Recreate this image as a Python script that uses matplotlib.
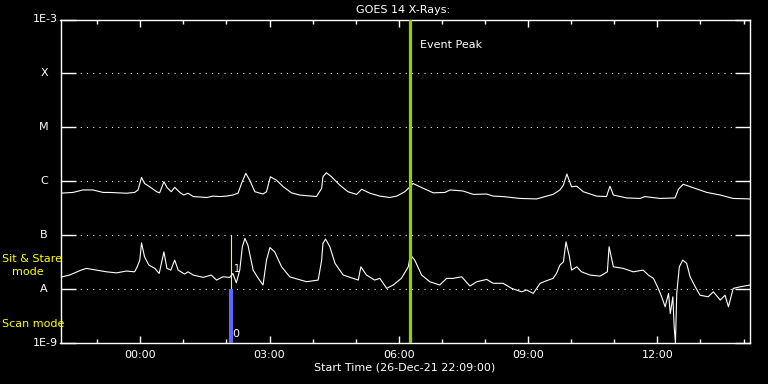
import numpy as np
import matplotlib
matplotlib.use("Agg")
import matplotlib.pyplot as plt
from matplotlib.ticker import FixedLocator, NullLocator, FuncFormatter
import matplotlib.transforms as mtransforms

# time in hours relative to 00:00 on 27-Dec (start 26-Dec 22:09)
long_t = [-1.87, -1.56, -1.33, -1.10, -0.86, -0.71, -0.32, -0.13, -0.05, 0.03, 0.10, 0.22,
          0.38, 0.45, 0.55, 0.62, 0.72, 0.80, 0.92, 1.01, 1.11, 1.23, 1.54, 1.69, 1.85,
          2.00, 2.15, 2.27, 2.35, 2.45, 2.54, 2.66, 2.85, 2.93, 3.02, 3.16, 3.32, 3.51,
          3.70, 4.09, 4.21, 4.24, 4.32, 4.44, 4.63, 4.82, 5.02, 5.14, 5.33, 5.56, 5.79,
          5.95, 6.14, 6.26, 6.33, 6.49, 6.80, 7.07, 7.19, 7.49, 7.73, 8.04, 8.19, 8.42,
          8.81, 9.20, 9.43, 9.58, 9.74, 9.82, 9.90, 10.01, 10.13, 10.28, 10.59, 10.82,
          10.90, 10.98, 11.29, 11.60, 11.71, 12.06, 12.41, 12.49, 12.60, 12.83, 13.15,
          13.46, 13.76, 14.15]
# 1-8 A flux in units of 1e-6 W/m^2
long_f = [0.60, 0.62, 0.69, 0.69, 0.62, 0.62, 0.60, 0.62, 0.69, 1.18, 0.91, 0.79,
          0.64, 0.61, 0.98, 0.77, 0.64, 0.77, 0.62, 0.555, 0.60, 0.52, 0.50, 0.53, 0.52,
          0.53, 0.555, 0.60, 0.91, 1.40, 1.05, 0.64, 0.58, 0.64, 1.21, 1.05, 0.79, 0.61,
          0.555, 0.52, 0.74, 1.21, 1.44, 1.21, 0.85, 0.64, 0.57, 0.71, 0.60, 0.53, 0.50,
          0.53, 0.64, 0.79, 0.91, 0.79, 0.61, 0.62, 0.69, 0.66, 0.57, 0.58, 0.53, 0.52,
          0.48, 0.47, 0.53, 0.57, 0.69, 0.85, 1.36, 0.79, 0.81, 0.64, 0.53, 0.52,
          0.81, 0.555, 0.49, 0.48, 0.52, 0.48, 0.49, 0.71, 0.88, 0.76, 0.62,
          0.555, 0.48, 0.47]

short_t = [-1.87, -1.64, -1.37, -1.25, -1.02, -0.78, -0.55, -0.32, -0.13, -0.07, -0.01, 0.03,
           0.10, 0.20, 0.34, 0.44, 0.55, 0.62, 0.71, 0.80, 0.88, 1.03, 1.11, 1.23, 1.46,
           1.65, 1.77, 1.92, 2.08, 2.15, 2.23, 2.31, 2.37, 2.43, 2.50, 2.62, 2.74, 2.85,
           2.93, 3.01, 3.12, 3.28, 3.47, 3.59, 3.86, 4.13, 4.21, 4.24, 4.30, 4.40, 4.52,
           4.71, 4.94, 5.06, 5.12, 5.25, 5.44, 5.56, 5.72, 5.87, 6.06, 6.22, 6.27, 6.37,
           6.53, 6.72, 6.95, 7.11, 7.26, 7.46, 7.65, 7.81, 8.04, 8.19, 8.42, 8.62, 8.85,
           8.97, 9.12, 9.28, 9.43, 9.58, 9.66, 9.74, 9.82, 9.88, 9.96, 10.01, 10.13, 10.24,
           10.44, 10.67, 10.84, 10.88, 10.98, 11.21, 11.44, 11.67, 11.79, 11.91, 12.02,
           12.10, 12.18, 12.26, 12.30, 12.36, 12.39, 12.42, 12.45, 12.51, 12.59, 12.68,
           12.76, 12.88, 12.99, 13.18, 13.30, 13.46, 13.57, 13.65, 13.76, 13.92, 14.15]
# 0.5-4 A flux in units of 1e-8 W/m^2
short_f = [1.65, 1.82, 2.25, 2.42, 2.25, 2.09, 2.00, 2.16, 2.09, 2.59, 3.45, 7.2,
           3.97, 2.79, 2.42, 1.95, 4.9, 2.42, 2.25, 3.45, 2.25, 1.90, 2.09, 1.82, 1.65,
           1.82, 1.47, 1.69, 1.65, 1.95, 1.31, 2.25, 6.1, 8.7, 6.5, 2.25, 1.58, 1.19,
           3.45, 5.9, 4.9, 2.59, 1.69, 1.58, 1.37, 1.47, 3.45, 7.0, 8.5, 6.1, 3.0,
           1.82, 1.58, 1.47, 2.59, 1.82, 1.47, 1.58, 1.03, 1.19, 1.58, 2.59, 4.3, 3.45,
           1.82, 1.37, 1.19, 1.58, 1.58, 1.69, 1.14, 1.37, 1.51, 1.28, 1.28, 1.03, 0.89,
           0.96, 0.83, 1.28, 1.43, 1.58, 1.95, 2.79, 3.2, 7.5, 3.97, 2.25, 2.59, 2.09,
           1.82, 1.74, 2.09, 6.1, 2.59, 2.42, 2.09, 2.25, 1.82, 1.58, 1.03,
           0.72, 0.47, 0.83, 0.35, 0.72, 0.20, 0.10, 0.83, 2.59, 3.45, 3.0,
           1.69, 1.10, 0.77, 0.72, 0.89, 0.625, 0.77, 0.47, 1.03, 1.10, 1.19]

class_levels = [1e-3, 1e-4, 1e-5, 1e-6, 1e-7, 1e-8, 1e-9]
class_labels = ["1E-3", "X", "M", "C", "B", "A", "1E-9"]

t_start, t_end = -1.85, 14.15
event_t = 6.27
mode_t = 2.11
fs = 8

fig = plt.figure(figsize=(7.68, 3.84), dpi=100, facecolor="black")
ax = fig.add_axes([60.5 / 768, 1 - 343 / 384, (750 - 60.5) / 768, (343 - 19.5) / 384])
ax.set_facecolor("black")
ax.set_yscale("log")
ax.set_xlim(t_start, t_end)
ax.set_ylim(1e-9, 1e-3)

# dotted class lines
for lev in class_levels[1:-1]:
    ax.axhline(lev, xmin=0.02, xmax=0.98, color="white", lw=0.75,
               linestyle=(0, (1, 5)), zorder=1)

ax.plot(long_t, np.array(long_f) * 1e-6, color="white", lw=0.8, zorder=3)
ax.plot(short_t, np.clip(np.array(short_f) * 1e-8, 1.0e-9, None), color="white", lw=0.8, zorder=3)

# scan / sit&stare markers
ax.plot([mode_t, mode_t], [1e-8, 1e-7], color="yellow", lw=0.8, zorder=4)
ax.plot([mode_t, mode_t], [1e-9, 1e-8], color="#6464ff", lw=3, solid_capstyle="butt", zorder=4)
ax.text(mode_t + 0.06, 2.4e-8, "1", color="white", fontsize=7, ha="left", va="center", zorder=5)
ax.text(mode_t + 0.02, 1.5e-9, "0", color="white", fontsize=fs, ha="left", va="center", zorder=5)

# event peak
ax.axvline(event_t, color="#9acd00", lw=2.3, zorder=5)
ax.text(event_t + 0.22, 3.3e-4, "Event Peak", color="white", fontsize=fs, ha="left", va="center")

for s in ax.spines.values():
    s.set_color("white")
    s.set_linewidth(1)

ax.yaxis.set_major_locator(FixedLocator(class_levels))
ax.yaxis.set_minor_locator(NullLocator())
ax.tick_params(axis="y", which="major", direction="in", length=10.5, width=1,
               color="white", left=True, right=True, labelleft=False)

ax.xaxis.set_major_locator(FixedLocator([0, 3, 6, 9, 12]))
ax.xaxis.set_minor_locator(FixedLocator([h for h in range(-1, 15) if h % 3 != 0]))
ax.xaxis.set_major_formatter(FuncFormatter(lambda h, p: "%02d:00" % (int(round(h)) % 24)))
ax.tick_params(axis="x", which="major", direction="in", length=5, width=1,
               color="white", top=True, bottom=True, labelcolor="white", labelsize=fs, pad=5)
ax.tick_params(axis="x", which="minor", direction="in", length=3, width=1,
               color="white", top=True, bottom=True)

trans = mtransforms.blended_transform_factory(fig.transFigure, ax.transData)
for lev, lab in zip(class_levels, class_labels):
    if lab.startswith("1E"):
        ax.text(57.5 / 768, lev, lab, transform=trans, color="white", fontsize=fs,
                ha="right", va="center")
    else:
        ax.text(44 / 768, lev, lab, transform=trans, color="white", fontsize=fs,
                ha="center", va="center")

fig.text(2 / 768, 1 - 259 / 384, "Sit & Stare", color="yellow", fontsize=fs, ha="left", va="center")
fig.text(12 / 768, 1 - 272 / 384, "mode", color="yellow", fontsize=fs, ha="left", va="center")
fig.text(2 / 768, 1 - 324 / 384, "Scan mode", color="yellow", fontsize=fs, ha="left", va="center")

fig.text(403 / 768, 1 - 10 / 384, "GOES 14 X-Rays:", color="white", fontsize=fs, ha="center", va="center")
fig.text(405 / 768, 1 - 368 / 384, "Start Time (26-Dec-21 22:09:00)", color="white", fontsize=fs,
         ha="center", va="center")

fig.savefig("out.png", dpi=100, facecolor="black")
